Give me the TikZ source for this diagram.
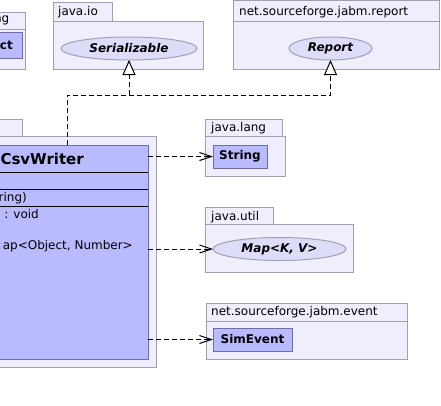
\documentclass[tikz,border=0pt]{standalone}
\usepackage{fontspec}
\setmainfont{DejaVu Sans}
\usetikzlibrary{arrows.meta,shapes.geometric}
\definecolor{pkgfill}{RGB}{238,238,252}
\definecolor{pkgline}{RGB}{160,160,178}
\definecolor{clsfill}{RGB}{186,186,255}
\definecolor{clsline}{RGB}{110,110,160}
\definecolor{ifill}{RGB}{221,221,250}
\definecolor{iline}{RGB}{160,160,178}
\begin{document}
\begin{tikzpicture}[x=1pt,y=-1pt,
  font=\fontsize{12}{14}\selectfont,
  box/.style={draw, line width=1pt, inner sep=0pt, outer sep=0pt, anchor=north west},
  pkgbox/.style={box, draw=pkgline, fill=pkgfill},
  clsbox/.style={box, draw=clsline, fill=clsfill},
  iface/.style={ellipse, draw=iline, fill=ifill, line width=1pt, inner sep=0pt, outer sep=0pt,
    font=\fontsize{12}{14}\selectfont\bfseries\itshape},
  lbl/.style={anchor=base west, inner sep=0pt},
  frag/.style={anchor=base east, inner sep=0pt},
  cname/.style={inner sep=0pt, font=\fontsize{12}{14}\selectfont\bfseries},
  dep/.style={dash pattern=on 5pt off 3pt, line width=1pt, -{Straight Barb[length=12pt,width=8pt,line width=1pt]}},
  real/.style={dash pattern=on 5pt off 3pt, line width=1pt, -{Triangle[open,fill=white,length=15pt,width=13pt,line width=1pt]}}]
\useasboundingbox (0,0) rectangle (441,405);
\clip (0,0) rectangle (441,405);
\fill[white] (0,0) rectangle (441,405);

% left top package (cropped)
\node[pkgbox, minimum width=35pt, minimum height=17pt] (ltab) at (-10,12) {};
\node[pkgbox, minimum width=35pt, minimum height=40pt] (lbody) at (-10,29) {};
\node[frag] (ltxt) at (9.5,22) {ng};
\node[clsbox, minimum width=52pt, minimum height=26pt] (obj) at (-30,32) {};
\node[frag, font=\fontsize{12}{14}\selectfont\bfseries] (objtxt) at (13,49.5) {ct};

% java.io
\node[pkgbox, minimum width=59pt, minimum height=19pt] (iotab) at (53,2) {};
\node[pkgbox, minimum width=150pt, minimum height=48pt] (iobody) at (53,21) {};
\node[lbl] (iotxt) at (58,15) {java.io};
\node[iface, minimum width=136pt, minimum height=23pt] (ser) at (129,48.5) {Serializable};

% net.sourceforge.jabm.report
\node[pkgbox, minimum width=206pt, minimum height=21pt] (reptab) at (233,0.5) {};
\node[pkgbox, minimum width=206pt, minimum height=48pt] (repbody) at (233,21) {};
\node[lbl] (reptxt) at (239,15) {net.sourceforge.jabm.report};
\node[iface, minimum width=83pt, minimum height=23pt] (rep) at (330.5,48.5) {Report};

% main package
\node[pkgbox, minimum width=32pt, minimum height=17pt] (mtab) at (-10,119) {};
\node[pkgbox, minimum width=166pt, minimum height=231pt] (mbody) at (-10,136) {};
\node[clsbox, minimum width=210pt, minimum height=214pt] (csv) at (-62,145) {};
\draw[line width=1pt] (-62,172) -- (csv.east |- 0,172);
\draw[line width=1pt] (-62,189) -- (csv.east |- 0,189);
\draw[line width=1pt] (-62,206) -- (csv.east |- 0,206);
\node[frag, font=\fontsize{15}{17}\selectfont\bfseries] (csvname) at (84,164) {CsvWriter};
\node[frag] (m1) at (27,201) {ring)};
\node[frag] (m2) at (39,218) {) : void};
\node[frag] (m3) at (133,249) {ap\textless Object, Number\textgreater};
\coordinate (csvtop) at (67,145);

% java.lang
\node[pkgbox, minimum width=77pt, minimum height=17pt] (langtab) at (205,119) {};
\node[pkgbox, minimum width=80pt, minimum height=40pt] (langbody) at (205,136) {};
\node[lbl] (langtxt) at (211,131) {java.lang};
\node[clsbox, minimum width=54pt, minimum height=23pt] (str) at (213,145) {};
\node[cname] (strtxt) at (str.center) {String};

% java.util
\node[pkgbox, minimum width=68pt, minimum height=17pt] (utiltab) at (205,207) {};
\node[pkgbox, minimum width=148pt, minimum height=48pt] (utilbody) at (205,224) {};
\node[lbl] (utiltxt) at (211,220) {java.util};
\node[iface, minimum width=133pt, minimum height=23pt] (map) at (279.5,249) {Map\textless K, V\textgreater};

% net.sourceforge.jabm.event
\node[pkgbox, minimum width=201pt, minimum height=18pt] (evtab) at (206,303) {};
\node[pkgbox, minimum width=201pt, minimum height=38pt] (evbody) at (206,321) {};
\node[lbl] (evtxt) at (211,315.5) {net.sourceforge.jabm.event};
\node[clsbox, minimum width=79pt, minimum height=23pt] (sim) at (213,328) {};
\node[cname] (simtxt) at (sim.center) {SimEvent};

% connectors
\draw[real] (csvtop) -- ++(0,-50) -| (ser.south);
\draw[real] (csvtop) -- ++(0,-50) -| (rep.south);
\draw[dep] (csv.east |- str.west) -- (str.west);
\draw[dep] (csv.east |- map.west) -- (map.west);
\draw[dep] (csv.east |- sim.west) -- (sim.west);
\end{tikzpicture}
\end{document}
